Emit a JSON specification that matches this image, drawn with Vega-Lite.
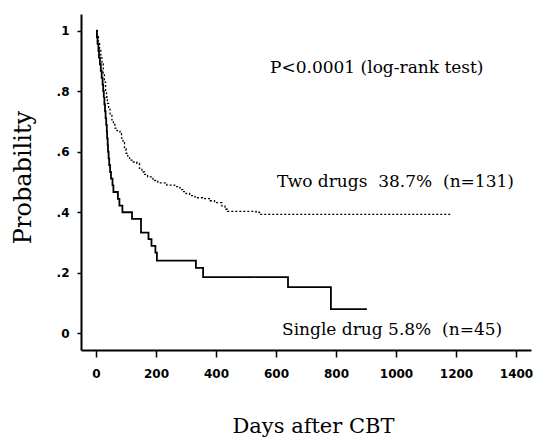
{
  "$schema": "https://vega.github.io/schema/vega-lite/v6.json",
  "width": 450,
  "height": 336,
  "autosize": {"type": "none"},
  "padding": {"left": 81, "top": 14, "right": 8, "bottom": 87},
  "background": "white",
  "config": {
    "view": {"stroke": null},
    "axis": {
      "domainColor": "black",
      "domainWidth": 2,
      "tickColor": "black",
      "tickWidth": 1.5,
      "labelColor": "black",
      "labelFont": "DejaVu Sans",
      "labelFontSize": 12,
      "labelFontWeight": "bold",
      "titleColor": "black",
      "titleFont": "DejaVu Serif",
      "titleFontWeight": "normal",
      "grid": false
    }
  },
  "datasets": {
    "curves": [
      {"group": "Single drug", "day": 0, "p": 1.0},
      {"group": "Single drug", "day": 3, "p": 0.978},
      {"group": "Single drug", "day": 5, "p": 0.956},
      {"group": "Single drug", "day": 8, "p": 0.933},
      {"group": "Single drug", "day": 10, "p": 0.911},
      {"group": "Single drug", "day": 13, "p": 0.889},
      {"group": "Single drug", "day": 16, "p": 0.867},
      {"group": "Single drug", "day": 19, "p": 0.844},
      {"group": "Single drug", "day": 22, "p": 0.822},
      {"group": "Single drug", "day": 24, "p": 0.8},
      {"group": "Single drug", "day": 26, "p": 0.778},
      {"group": "Single drug", "day": 28, "p": 0.756},
      {"group": "Single drug", "day": 30, "p": 0.733},
      {"group": "Single drug", "day": 32, "p": 0.711},
      {"group": "Single drug", "day": 34, "p": 0.689},
      {"group": "Single drug", "day": 36, "p": 0.667},
      {"group": "Single drug", "day": 37, "p": 0.644},
      {"group": "Single drug", "day": 39, "p": 0.622},
      {"group": "Single drug", "day": 40, "p": 0.6},
      {"group": "Single drug", "day": 42, "p": 0.578},
      {"group": "Single drug", "day": 44, "p": 0.556},
      {"group": "Single drug", "day": 47, "p": 0.533},
      {"group": "Single drug", "day": 50, "p": 0.511},
      {"group": "Single drug", "day": 55, "p": 0.489},
      {"group": "Single drug", "day": 58, "p": 0.467},
      {"group": "Single drug", "day": 73, "p": 0.444},
      {"group": "Single drug", "day": 78, "p": 0.422},
      {"group": "Single drug", "day": 88, "p": 0.4},
      {"group": "Single drug", "day": 120, "p": 0.378},
      {"group": "Single drug", "day": 150, "p": 0.333},
      {"group": "Single drug", "day": 175, "p": 0.311},
      {"group": "Single drug", "day": 185, "p": 0.289},
      {"group": "Single drug", "day": 198, "p": 0.267},
      {"group": "Single drug", "day": 203, "p": 0.24},
      {"group": "Single drug", "day": 333, "p": 0.216},
      {"group": "Single drug", "day": 357, "p": 0.186},
      {"group": "Single drug", "day": 640, "p": 0.153},
      {"group": "Single drug", "day": 783, "p": 0.08},
      {"group": "Single drug", "day": 903, "p": 0.08},
      {"group": "Two drugs", "day": 0, "p": 1.0},
      {"group": "Two drugs", "day": 4, "p": 0.98},
      {"group": "Two drugs", "day": 8, "p": 0.96},
      {"group": "Two drugs", "day": 12, "p": 0.94},
      {"group": "Two drugs", "day": 16, "p": 0.91},
      {"group": "Two drugs", "day": 20, "p": 0.89},
      {"group": "Two drugs", "day": 24, "p": 0.86},
      {"group": "Two drugs", "day": 28, "p": 0.83},
      {"group": "Two drugs", "day": 32, "p": 0.8},
      {"group": "Two drugs", "day": 35, "p": 0.78},
      {"group": "Two drugs", "day": 38, "p": 0.76},
      {"group": "Two drugs", "day": 42, "p": 0.74},
      {"group": "Two drugs", "day": 47, "p": 0.72},
      {"group": "Two drugs", "day": 53, "p": 0.705},
      {"group": "Two drugs", "day": 58, "p": 0.69},
      {"group": "Two drugs", "day": 63, "p": 0.678},
      {"group": "Two drugs", "day": 70, "p": 0.67},
      {"group": "Two drugs", "day": 80, "p": 0.66},
      {"group": "Two drugs", "day": 85, "p": 0.645},
      {"group": "Two drugs", "day": 90, "p": 0.63},
      {"group": "Two drugs", "day": 95, "p": 0.61},
      {"group": "Two drugs", "day": 100, "p": 0.595},
      {"group": "Two drugs", "day": 106, "p": 0.58},
      {"group": "Two drugs", "day": 112, "p": 0.572},
      {"group": "Two drugs", "day": 120, "p": 0.566},
      {"group": "Two drugs", "day": 136, "p": 0.562},
      {"group": "Two drugs", "day": 145, "p": 0.545},
      {"group": "Two drugs", "day": 153, "p": 0.533},
      {"group": "Two drugs", "day": 162, "p": 0.525},
      {"group": "Two drugs", "day": 172, "p": 0.517},
      {"group": "Two drugs", "day": 190, "p": 0.505},
      {"group": "Two drugs", "day": 206, "p": 0.497},
      {"group": "Two drugs", "day": 236, "p": 0.49},
      {"group": "Two drugs", "day": 262, "p": 0.485},
      {"group": "Two drugs", "day": 280, "p": 0.475},
      {"group": "Two drugs", "day": 289, "p": 0.468},
      {"group": "Two drugs", "day": 300, "p": 0.462},
      {"group": "Two drugs", "day": 312, "p": 0.455},
      {"group": "Two drugs", "day": 330, "p": 0.448},
      {"group": "Two drugs", "day": 355, "p": 0.445},
      {"group": "Two drugs", "day": 380, "p": 0.438},
      {"group": "Two drugs", "day": 395, "p": 0.432},
      {"group": "Two drugs", "day": 420, "p": 0.42},
      {"group": "Two drugs", "day": 430, "p": 0.41},
      {"group": "Two drugs", "day": 438, "p": 0.403},
      {"group": "Two drugs", "day": 534, "p": 0.4},
      {"group": "Two drugs", "day": 545, "p": 0.393},
      {"group": "Two drugs", "day": 1187, "p": 0.393}
    ],
    "notes": [
      {"label": "P<0.0001 (log-rank test)", "day": 580, "p": 0.877},
      {"label": "Two drugs\u00a0 38.7%\u00a0 (n=131)", "day": 603, "p": 0.5},
      {"label": "Single drug 5.8%\u00a0 (n=45)", "day": 620, "p": 0.011}
    ]
  },
  "layer": [
    {
      "data": {"name": "curves"},
      "mark": {"type": "line", "interpolate": "step-after", "color": "black"},
      "encoding": {
        "x": {
          "field": "day",
          "type": "quantitative",
          "scale": {"domain": [-50, 1450], "nice": false, "zero": false},
          "axis": {
            "title": "Days after CBT",
            "titleFontSize": 21,
            "titleX": 232,
            "titleY": 82,
            "titleAlign": "center",
            "titleBaseline": "alphabetic",
            "values": [0, 50, 100, 150, 200, 250, 300, 350, 400, 450, 500, 550, 600, 650, 700, 750, 800, 850, 900, 950, 1000, 1050, 1100, 1150, 1200, 1250, 1300, 1350, 1400, 1450],
            "labelExpr": "datum.value % 200 === 0 ? datum.label : ''",
            "format": "d",
            "tickSize": {"condition": {"test": "datum.value % 200 === 0", "value": 7}, "value": 4},
            "labelPadding": 11,
            "labelFlush": false,
            "labelOverlap": false
          }
        },
        "y": {
          "field": "p",
          "type": "quantitative",
          "scale": {"domain": [-0.055, 1.055], "nice": false, "zero": false},
          "axis": {
            "title": "Probability",
            "titleFontSize": 24,
            "titleX": -51,
            "titleY": 163,
            "titleAlign": "center",
            "titleBaseline": "alphabetic",
            "values": [0, 0.1, 0.2, 0.3, 0.4, 0.5, 0.6, 0.7, 0.8, 0.9, 1],
            "labelExpr": "round(datum.value*10) % 2 !== 0 ? '' : (datum.value === 0 ? '0' : (datum.value === 1 ? '1' : replace(format(datum.value, '.1f'), '0.', '.')))",
            "tickSize": {"condition": {"test": "round(datum.value*10) % 2 === 0", "value": 4}, "value": 3},
            "labelPadding": 8,
            "labelFlush": false,
            "labelOverlap": false
          }
        },
        "detail": {"field": "group"},
        "strokeDash": {
          "field": "group",
          "type": "nominal",
          "scale": {"domain": ["Single drug", "Two drugs"], "range": [[1, 0], [2, 2]]},
          "legend": null
        },
        "strokeWidth": {
          "field": "group",
          "type": "nominal",
          "scale": {"domain": ["Single drug", "Two drugs"], "range": [1.8, 1.3]},
          "legend": null
        }
      }
    },
    {
      "data": {"name": "notes"},
      "mark": {"type": "text", "align": "left", "baseline": "middle", "font": "DejaVu Serif", "fontSize": 17, "color": "black"},
      "encoding": {
        "x": {"field": "day", "type": "quantitative"},
        "y": {"field": "p", "type": "quantitative"},
        "text": {"field": "label"}
      }
    }
  ]
}
